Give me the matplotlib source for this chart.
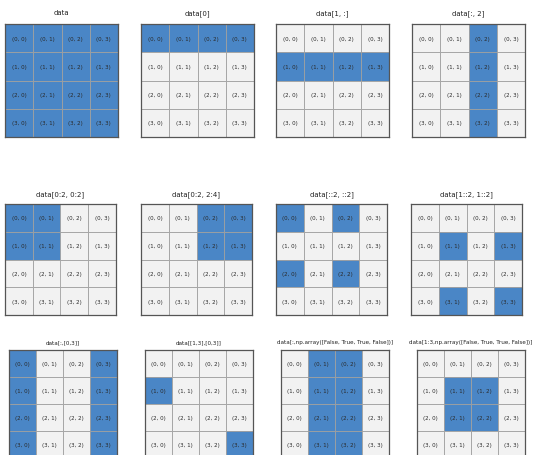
import numpy as np
import matplotlib.pyplot as plt

shape = (4, 4)

titles = [
    'data', 'data[0]', 'data[1, :]', 'data[:, 2]',
    'data[0:2, 0:2]', 'data[0:2, 2:4]', 'data[::2, ::2]', 'data[1::2, 1::2]',
    'data[:,[0,3]]', 'data[[1,3],[0,3]]',
    'data[:,np.array([False, True, True, False])]',
    'data[1:3,np.array([False, True, True, False])]',
]

mask = np.array([False, True, True, False])
selections = [
    (slice(None), slice(None)), 0, (1, slice(None)), (slice(None), 2),
    (slice(0, 2), slice(0, 2)), (slice(0, 2), slice(2, 4)),
    (slice(None, None, 2), slice(None, None, 2)),
    (slice(1, None, 2), slice(1, None, 2)),
    (slice(None), [0, 3]), ([1, 3], [0, 3]),
    (slice(None), mask), (slice(1, 3), mask),
]

# panel boxes in pixels: left, top, size, title size, title pad
rows = [
    ([5, 141, 276, 412], 25, 113, 5.0, 7),
    ([5, 141, 276, 411], 205, 111, 5.0, 6),
    ([9, 145, 281, 417], 351, 108, 4.1, 5),
]

W, H = 536, 456
fig = plt.figure(figsize=(W / 100, H / 100), dpi=100)

k = 0
for lefts, top, size, tsize, tpad in rows:
    for left in lefts:
        ax = fig.add_axes([left / W, 1 - (top + size) / H, size / W, size / H])
        data = np.zeros(shape)
        data[selections[k]] = 1
        for (m, n), w in np.ndenumerate(data):
            color = '#4a86c6' if w > 0 else '#f2f2f2'
            ax.add_patch(plt.Rectangle((n, m), 1, 1, facecolor=color,
                                       edgecolor='#a0a0a0', linewidth=0.6))
            ax.text(n + 0.5, m + 0.5, '(%d, %d)' % (m, n), ha='center',
                    va='center', fontsize=4.0, color='#2a2a2a')
        ax.set_xlim(0, shape[1])
        ax.set_ylim(shape[0], 0)
        ax.set_xticks([])
        ax.set_yticks([])
        for sp in ax.spines.values():
            sp.set_color('#555555')
            sp.set_linewidth(0.9)
        ax.set_title(titles[k], fontsize=tsize, pad=tpad, color='#222222')
        k += 1

fig.savefig('out.png', dpi=100)
